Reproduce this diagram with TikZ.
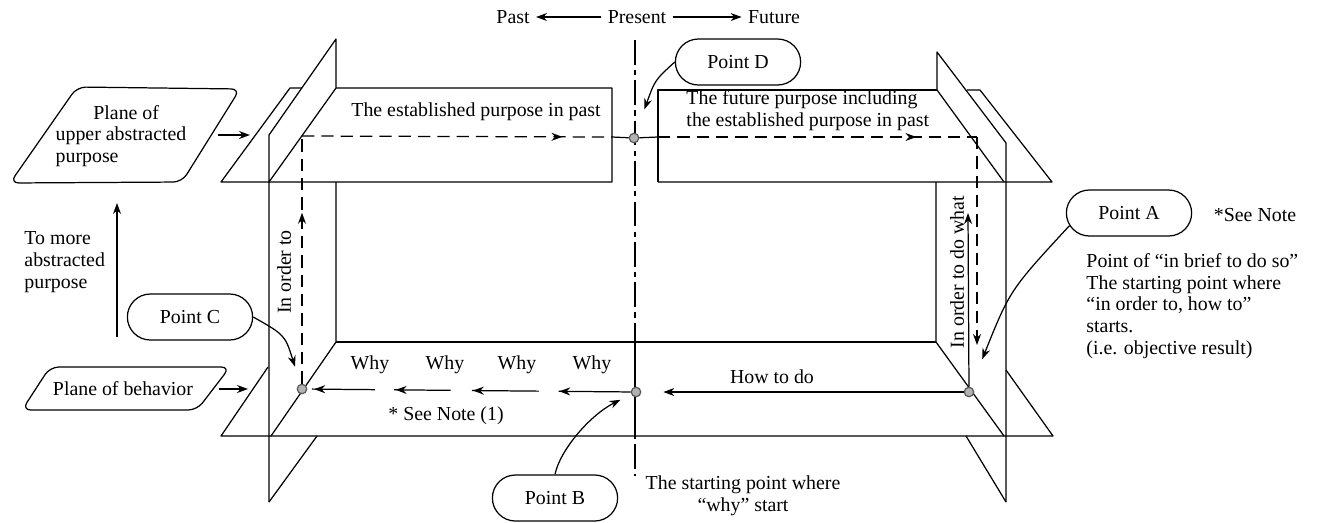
\documentclass[tikz,border=0pt]{standalone}
\usepackage{fontspec}
\setmainfont{Liberation Serif}
\usetikzlibrary{arrows.meta,shapes.misc,decorations.markings}
\tikzset{
  >={Stealth[length=2.2mm,width=1.6mm]},
  pointbox/.style={rounded rectangle,draw,minimum width=2.74cm,minimum height=0.92cm},
  spot/.style={circle,fill=gray!60,draw=gray!70!black,inner sep=0pt,minimum size=1.9mm},
  dashedpath/.style={dash pattern=on 7pt off 4pt},
  midarrow/.style={postaction={decorate},decoration={markings,mark=at position #1 with {\arrow{>}}}},
  whyline/.style={dash pattern=on 41pt off 11.4pt on 38pt off 12pt on 32.4pt off 10.8pt on 35.8pt off 10pt,
    postaction={decorate},decoration={markings,
      mark=at position 0.221 with {\arrow{>}},
      mark=at position 0.488 with {\arrow{>}},
      mark=at position 0.727 with {\arrow{>}},
      mark=at position 0.979 with {\arrow{>}}}},
}
\begin{document}
\begin{tikzpicture}[x=0.02cm,y=-0.02cm,line width=0.7pt,line join=round,font=\fontsize{11.3}{12.4}\selectfont]
\useasboundingbox (0,0) rectangle (1327,522);
% time axis
\node (past) at (513,17) {Past};
\node (pres) at (637,17) {Present};
\node (fut) at (774,17) {Future};
\draw[->] (pres) -- (past);
\draw[->] (pres) -- (fut);
% upper plane
\draw (302,88) -- (290,88) -- (221,182) -- (612,182) -- (612,88) -- (336,88);
\draw (658,182) -- (658,90) -- (937,90);
\draw (658,182) -- (1052,182) -- (980,90) -- (967,90);
% lower plane
\draw (268,367) -- (221,436) -- (1053,436) -- (1006,370);
\draw (336,342) -- (936,342);
% left wall
\draw (269,502) -- (269,135) -- (336,39) -- (336,88) -- (269,182);
\draw (336,182) -- (336,342) -- (271,436);
\draw (269,502) -- (317,436);
% right wall
\draw (1006,502) -- (1006,143) -- (937,52) -- (937,90) -- (1004,182);
\draw (936,182) -- (936,342) -- (1004,436);
\draw (1006,502) -- (966,436);
% present
\draw[dash pattern=on 14pt off 3pt on 3pt off 3pt] (635,40) -- (635,476);
\draw (635,342) -- (635,436);

% planes on the left
\draw[rounded corners=5pt] (10,183) -- (77,87) -- (240,89) -- (182,182) -- cycle;
\node[align=left] (upper) at (121,136) {\hspace*{1.9em}Plane of\\upper abstracted\\purpose};
\draw[rounded corners=5pt] (22,410) -- (50,367) -- (230,367) -- (197,410) -- cycle;
\node (behav) at (123,389) {Plane of behavior};
\coordinate (upout) at (218,135);
\coordinate (upin) at (250,135);
\draw[->] (upout) -- (upin);
\coordinate (beout) at (219,389);
\coordinate (bein) at (248,389);
\draw[->] (beout) -- (bein);
\node[align=left,anchor=west] (more) at (18,262) {To more\\abstracted\\purpose};
\coordinate (abs0) at (117,337);
\coordinate (abs1) at (117,203);
\draw[->] (abs0) -- (abs1);

% texts on the planes
\node (estab) at (476,112) {The established purpose in past};
\node[align=left,anchor=west] (future) at (680,111) {The future purpose including\\the established purpose in past};
\node[rotate=90] (ordL) at (284,272) {In order to};
\node[rotate=90] (ordR) at (957,272) {In order to do what};
\node (why1) at (370,365) {Why};
\node (why2) at (445,365) {Why};
\node (why3) at (517,365) {Why};
\node (why4) at (592,365) {Why};
\node (note1) at (446,416) {* See Note (1)};
\node (howdo) at (772,377) {How to do};
\node[align=center] (startB) at (743,496) {The starting point where\\“why” start};

% points
\node[pointbox] (pD) at (738,62) {Point D};
\node[pointbox] (pA) at (1129,213) {Point A};
\node[pointbox] (pB) at (555,498) {Point B};
\node[pointbox] (pC) at (190,317) {Point C};
\node (seeA) at (1255,215) {*See Note};
\node[align=left,anchor=west] (briefA) at (1080,306) {Point of “in brief to do so”\\The starting point where\\“in order to, how to”\\starts.\\(i.e. objective result)};

\node[spot] (dotD) at (634,138) {};
\node[spot] (dotB) at (636,392) {};
\node[spot] (dotC) at (302,389) {};
\node[spot] (dotA) at (969,392) {};
\coordinate (ul) at (302,136);
\coordinate (gl) at (612,137);
\coordinate (gr) at (658,137);
\coordinate (ur) at (977,137);
\coordinate (ra) at (977,345);
\coordinate (rt) at (968,213);

% paths
\draw[dashedpath,midarrow=0.84] (ul) -- (gl);
\draw (gl) -- (dotD) -- (gr);
\draw[dashedpath,midarrow=0.81] (gr) -- (ur);
\draw[dashedpath,->] (ur) -- (ra);
\draw[dashedpath,midarrow=0.69] (dotC) -- (ul);
\draw[->] (dotA) -- (rt);
\draw[->,shorten >=0.44cm] (dotA) -- (dotB);
\draw[whyline] (dotB) -- (dotC);
\draw[->,shorten >=0.5cm] (pD.west) .. controls (655,80) .. (dotD);
\draw[->,shorten >=0.24cm] (pB.north) .. controls (560,450) and (590,415) .. (dotB);
\draw[->,shorten >=0.36cm] (pC.east) .. controls (285,335) .. (dotC);
\draw[->,shorten >=0.6cm] (pA.192) .. controls (1010,290) .. (dotA);
\end{tikzpicture}
\end{document}
